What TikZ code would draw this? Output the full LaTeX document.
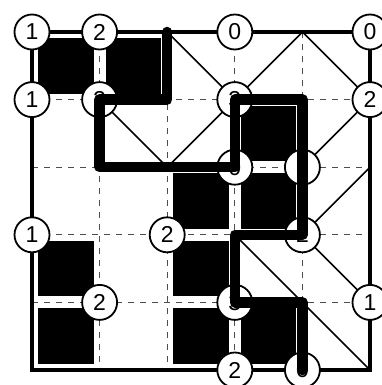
\documentclass[tikz,border=0pt]{standalone}
\usepackage{fontspec}
\setmainfont{Liberation Sans}
\begin{document}
\begin{tikzpicture}[x=1pt,y=-1pt,
  num/.style={circle,draw,fill=white,line width=1.8pt,minimum size=35pt,inner sep=0pt,font=\fontsize{23}{23}\selectfont},
  gridline/.style={black!70,line width=0.9pt,dash pattern=on 6pt off 6pt},
  blk/.style={fill=black,draw=white,line width=2pt},
  diag/.style={line width=1.6pt},
  border/.style={line width=4pt},
  loopline/.style={line width=10.5pt,line cap=round,line join=round}]
\useasboundingbox (0,0) rectangle (381,385);
\begin{scope}[shift={(32,32)},x=67.6pt,y=-67.6pt]
  % dashed grid
  \foreach \i in {1,...,4} {
    \draw[gridline] (\i,0) -- (\i,5);
    \draw[gridline] (0,\i) -- (5,\i);
  }
  % black cells
  \foreach \c/\r in {0/0,1/0,3/1,2/2,3/2,2/3,0/3,0/4,2/4,3/4}
    \draw[blk] ([xshift=5pt,yshift=-5pt]\c,\r) rectangle ([xshift=-5pt,yshift=5pt]{\c+1},{\r+1});
  % diagonals
  \draw[diag] (1,1) -- (2,2) -- (3,1);
  \draw[diag] (2,0) -- (3,1) -- (4,0) -- (5,1) -- (4,2);
  \draw[diag] (5,2) -- (4,3) -- (5,4);
  \draw[diag] (3,3) -- (5,5);
  % border
  \draw[border] (0,0) rectangle (5,5);
  % numbered circles
  \node[num] (n00) at (0,0) {1};
  \node[num] (n10) at (1,0) {2};
  \node[num] (n30) at (3,0) {0};
  \node[num] (n50) at (5,0) {0};
  \node[num] (n01) at (0,1) {1};
  \node[num] (n11) at (1,1) {2};
  \node[num] (n31) at (3,1) {3};
  \node[num] (n51) at (5,1) {2};
  \node[num] (n32) at (3,2) {0};
  \node[num] (n42) at (4,2) {1};
  \node[num] (n03) at (0,3) {1};
  \node[num] (n23) at (2,3) {2};
  \node[num] (n43) at (4,3) {2};
  \node[num] (n14) at (1,4) {2};
  \node[num] (n34) at (3,4) {3};
  \node[num] (n54) at (5,4) {1};
  \node[num] (n35) at (3,5) {2};
  \node[num] (n45) at (4,5) {0};
  % thick path
  \draw[loopline] (2,0) -- (n11.center -| 2,0) -- (n11.center) -- (1,2) -- (n32.center) -- (n31.center)
    -- (4,1) -- (n43.center) -- (3,3) -- (n34.center) -- (4,4) -- (n45.center);
\end{scope}
\end{tikzpicture}
\end{document}
